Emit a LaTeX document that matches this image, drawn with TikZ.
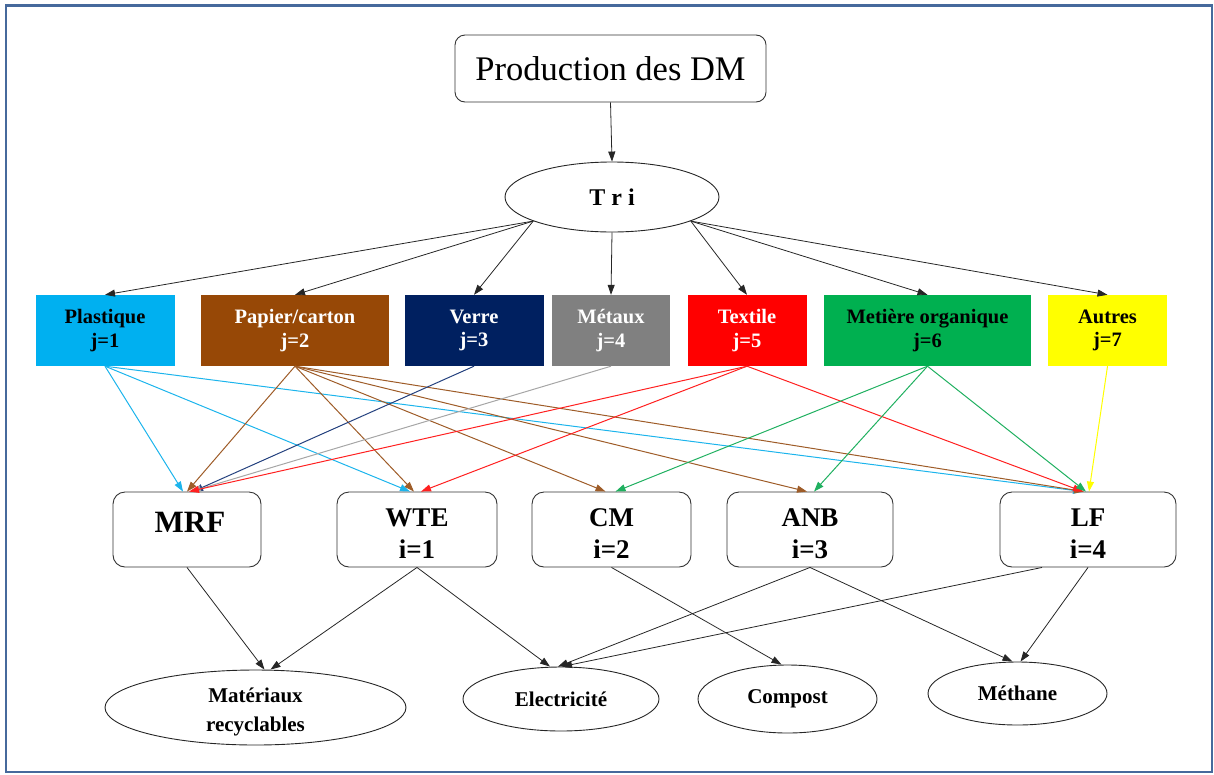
\documentclass[tikz,border=0pt]{standalone}
\usepackage{fontspec}
\setmainfont{Liberation Serif}
\usetikzlibrary{shapes.geometric,arrows.meta}
\definecolor{framec}{HTML}{46699C}
\definecolor{cplast}{HTML}{00B0F0}
\definecolor{cpap}{HTML}{974806}
\definecolor{cverre}{HTML}{002060}
\definecolor{cmet}{HTML}{808080}
\definecolor{ctex}{HTML}{FF0000}
\definecolor{cmo}{HTML}{00B050}
\definecolor{caut}{HTML}{FFFF00}
\definecolor{lplast}{HTML}{1CB4EC}
\definecolor{lpap}{HTML}{9E5C28}
\definecolor{lverre}{HTML}{23407E}
\definecolor{lmet}{HTML}{A6A6A6}
\definecolor{ltex}{HTML}{FF2020}
\definecolor{lmo}{HTML}{20B060}
\definecolor{laut}{HTML}{FFFF00}
\begin{document}
\begin{tikzpicture}[x=1pt,y=-1pt,
  catbox/.style={rectangle, minimum height=71pt, inner sep=0pt, align=center,
    font=\bfseries\fontsize{20.5}{23.5}\selectfont},
  procbox/.style={rectangle, rounded corners=12pt, draw=black!80, line width=0.9pt,
    minimum height=75pt, inner sep=0pt},
  proctext/.style={inner sep=0pt, align=center, font=\bfseries\fontsize{27}{32}\selectfont},
  outell/.style={ellipse, draw=black!85, line width=0.9pt, inner sep=0pt, align=center,
    font=\bfseries\fontsize{21}{29}\selectfont},
  outtext/.style={inner sep=0pt, align=center, font=\bfseries\fontsize{21}{29}\selectfont},
  arr/.style={-{Triangle[length=10pt,width=7pt]}, line width=0.8pt, draw=black!85},
  carr/.style={-{Triangle[length=10pt,width=7pt]}, line width=1pt}
]
\useasboundingbox (0,0) rectangle (1214,774);
\draw[framec, line width=2.5pt] (6,5.5) rectangle (1212,772);

% top
\node[rectangle, rounded corners=10pt, draw=black!80, line width=0.9pt,
  minimum width=311pt, minimum height=67pt, inner sep=0pt,
  font=\fontsize{34.5}{40}\selectfont] (prod) at (610.5,68.5) {Production des DM};
\node[ellipse, draw=black!85, line width=0.9pt, minimum width=214pt, minimum height=70pt,
  inner sep=0pt, font=\bfseries\fontsize{24}{28}\selectfont] (tri) at (612,197) {T r i};

% categories
\node[catbox, fill=cplast, minimum width=139pt, text=black] (plast) at (105,330.5) {Plastique\\j=1};
\node[catbox, fill=cpap, minimum width=188pt, text=white] (pap) at (295,330.5) {Papier/carton\\j=2};
\node[catbox, fill=cverre, minimum width=139pt, text=white] (verre) at (474,330.5) {Verre\\j=3};
\node[catbox, fill=cmet, minimum width=118pt, text=white] (met) at (611,330.5) {Métaux\\j=4};
\node[catbox, fill=ctex, minimum width=119pt, text=white] (tex) at (747,330.5) {Textile\\j=5};
\node[catbox, fill=cmo, minimum width=207pt, text=black] (mo) at (927.5,330.5) {Metière organique\\j=6};
\node[catbox, fill=caut, minimum width=119pt, text=black] (aut) at (1107.5,330.5) {Autres\\j=7};

% processes
\node[procbox, minimum width=148pt] (mrf) at (187,529.5) {};
\node[procbox, minimum width=160pt] (wte) at (417,529.5) {};
\node[procbox, minimum width=159pt] (cm) at (611.5,529.5) {};
\node[procbox, minimum width=166pt] (anb) at (810,529.5) {};
\node[procbox, minimum width=176pt] (lf) at (1088,529.5) {};
\node[proctext, font=\bfseries\fontsize{31}{32}\selectfont, anchor=base] (mrft) at ([xshift=3pt]mrf.center) [yshift=-3pt] {MRF};
\node[proctext] (wtet) at (wte.center) [yshift=-4pt] {WTE\\i=1};
\node[proctext] (cmt) at (cm.center) [yshift=-4pt] {CM\\i=2};
\node[proctext] (anbt) at (anb.center) [yshift=-4pt] {ANB\\i=3};
\node[proctext] (lft) at (lf.center) [yshift=-4pt] {LF\\i=4};

% outputs
\node[outell, minimum width=301pt, minimum height=75pt] (mat) at (255.5,707.5) {};
\node[outtext] (matt) at (mat.center) [yshift=-4pt] {Matériaux\\recyclables};
\node[outell, minimum width=196pt, minimum height=64pt] (elec) at (561,699) {Electricité};
\node[outell, minimum width=179pt, minimum height=68pt] (comp) at (787.5,699) {Compost};
\node[outell, minimum width=179pt, minimum height=63pt] (meth) at (1017.5,693.5) {Méthane};

% black arrows top
\draw[arr] (prod.south) -- (tri.north);
\draw[arr] (tri.197) -- (plast.north);
\draw[arr] (tri.197) -- (pap.north);
\draw[arr] (tri.197) -- (verre.north);
\draw[arr] (tri.south) -- (met.north);
\draw[arr] (tri.343) -- (tex.north);
\draw[arr] (tri.343) -- (mo.north);
\draw[arr] (tri.343) -- (aut.north);

% coloured arrows
\draw[carr, lplast] (plast.south) -- ([xshift=-4pt]mrf.north);
\draw[carr, lplast] (plast.south) -- ([xshift=-7pt]wte.north);
\draw[carr, lplast] (plast.south) -- ([xshift=-5pt]lf.north);
\draw[carr, lpap] (pap.south) -- ([xshift=0pt]mrf.north);
\draw[carr, lpap] (pap.south) -- ([xshift=-3pt]wte.north);
\draw[carr, lpap] (pap.south) -- ([xshift=-6pt]cm.north);
\draw[carr, lpap] (pap.south) -- ([xshift=-3pt]anb.north);
\draw[carr, lpap] (pap.south) -- ([xshift=-4pt]lf.north);
\draw[carr, lverre] (verre.south) -- ([xshift=6pt]mrf.north);
\draw[carr, lmet] (met.south) -- ([xshift=4pt]mrf.north);
\draw[carr, ltex] (tex.south) -- ([xshift=2pt]mrf.north);
\draw[carr, ltex] (tex.south) -- ([xshift=4pt]wte.north);
\draw[carr, ltex] (tex.south) -- ([xshift=-5pt]lf.north);
\draw[carr, lmo] (mo.south) -- ([xshift=4pt]cm.north);
\draw[carr, lmo] (mo.south) -- ([xshift=4pt]anb.north);
\draw[carr, lmo] (mo.south) -- ([xshift=-2pt]lf.north);
\draw[carr, laut] (aut.south) -- ([xshift=1pt]lf.north);

% black arrows bottom
\draw[arr] (mrf.south) -- ([xshift=9pt]mat.north);
\draw[arr] (wte.south) -- ([xshift=15pt]mat.north);
\draw[arr] (wte.south) -- ([xshift=-11pt]elec.north);
\draw[arr] (cm.south) -- ([xshift=-6pt]comp.north);
\draw[arr] (anb.south) -- ([xshift=-3pt]elec.north);
\draw[arr] (anb.south) -- ([xshift=-5pt]meth.north);
\draw[arr] ([xshift=-46pt]lf.south) -- ([xshift=1pt]elec.north);
\draw[arr] (lf.south) -- ([xshift=3pt]meth.north);
\end{tikzpicture}
\end{document}
